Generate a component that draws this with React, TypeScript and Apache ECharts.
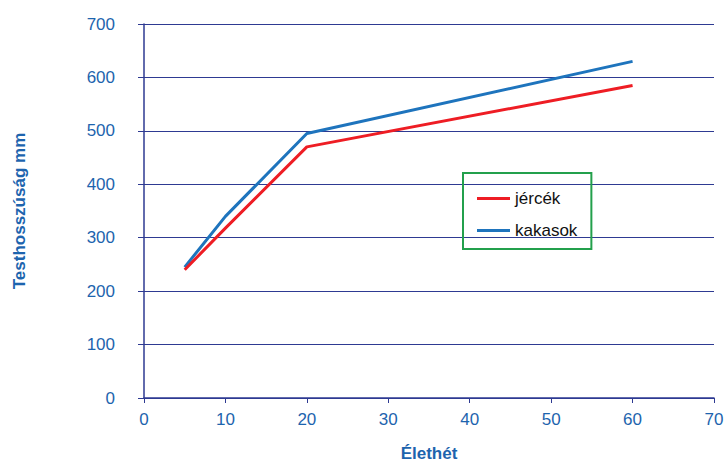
import React, { useEffect, useRef } from "react";
import * as echarts from "echarts";

// Age in weeks and body length (mm) for pullets and cockerels
const weeks: number[] = [5, 10, 20, 60];
const jercek: number[] = [240, 318, 470, 585];
const kakasok: number[] = [245, 340, 495, 630];
const seriesNames: string[] = ["jércék", "kakasok"];

const textBlue = "#1d64ae";
const gridNavy = "#2e3a92";
const font = "'Liberation Sans', Arial, sans-serif";

export default function App() {
  const ref = useRef<HTMLDivElement>(null);

  useEffect(() => {
    if (!ref.current) return;
    const chart = echarts.init(ref.current, null, { renderer: "svg" });
    chart.setOption({
      animation: false,
      backgroundColor: "#ffffff",
      textStyle: { fontFamily: font },
      grid: {
        left: 144,
        right: 12,
        top: 24,
        bottom: 66,
        containLabel: false,
        outerBoundsMode: "none",
      },
      legend: {
        left: 463,
        top: 173,
        orient: "vertical",
        data: seriesNames,
        icon: "rect",
        itemWidth: 33,
        itemHeight: 3,
        itemGap: 15,
        padding: [17, 14, 10, 14],
        borderColor: "#23a04c",
        borderWidth: 2,
        borderRadius: 0,
        textStyle: { fontSize: 17, color: "#111111", fontFamily: font },
      },
      xAxis: {
        type: "value",
        min: 0,
        max: 70,
        interval: 10,
        name: "Élethét",
        nameLocation: "middle",
        nameGap: 47,
        nameTextStyle: { color: textBlue, fontSize: 17, fontWeight: "bold", fontFamily: font },
        axisLine: { show: true, lineStyle: { color: gridNavy, width: 1.5 } },
        axisTick: { show: true, inside: false, length: 5, lineStyle: { color: gridNavy } },
        axisLabel: { color: textBlue, fontSize: 17, margin: 13, fontFamily: font },
        splitLine: { show: false },
      },
      yAxis: {
        type: "value",
        min: 0,
        max: 700,
        interval: 100,
        name: "Testhosszúság mm",
        nameLocation: "middle",
        nameRotate: 90,
        nameGap: 116,
        nameTextStyle: { color: textBlue, fontSize: 17, fontWeight: "bold", fontFamily: font },
        axisLine: { show: true, lineStyle: { color: gridNavy, width: 1.5 } },
        axisTick: { show: true, inside: false, length: 6, lineStyle: { color: gridNavy } },
        axisLabel: { color: textBlue, fontSize: 17, margin: 29, fontFamily: font },
        splitLine: { show: true, lineStyle: { color: gridNavy, width: 1.2 } },
      },
      series: [
        {
          name: seriesNames[0],
          type: "line",
          data: weeks.map((w, i) => [w, jercek[i]]),
          showSymbol: false,
          symbol: "none",
          lineStyle: { color: "#ee1d24", width: 3 },
          itemStyle: { color: "#ee1d24" },
          z: 3,
        },
        {
          name: seriesNames[1],
          type: "line",
          data: weeks.map((w, i) => [w, kakasok[i]]),
          showSymbol: false,
          symbol: "none",
          lineStyle: { color: "#1e74bd", width: 3 },
          itemStyle: { color: "#1e74bd" },
          z: 2,
        },
      ],
    });
    return () => chart.dispose();
  }, []);

  return (
    <div
      ref={ref}
      style={{ position: "fixed", left: 0, top: 0, width: 726, height: 464 }}
    />
  );
}
